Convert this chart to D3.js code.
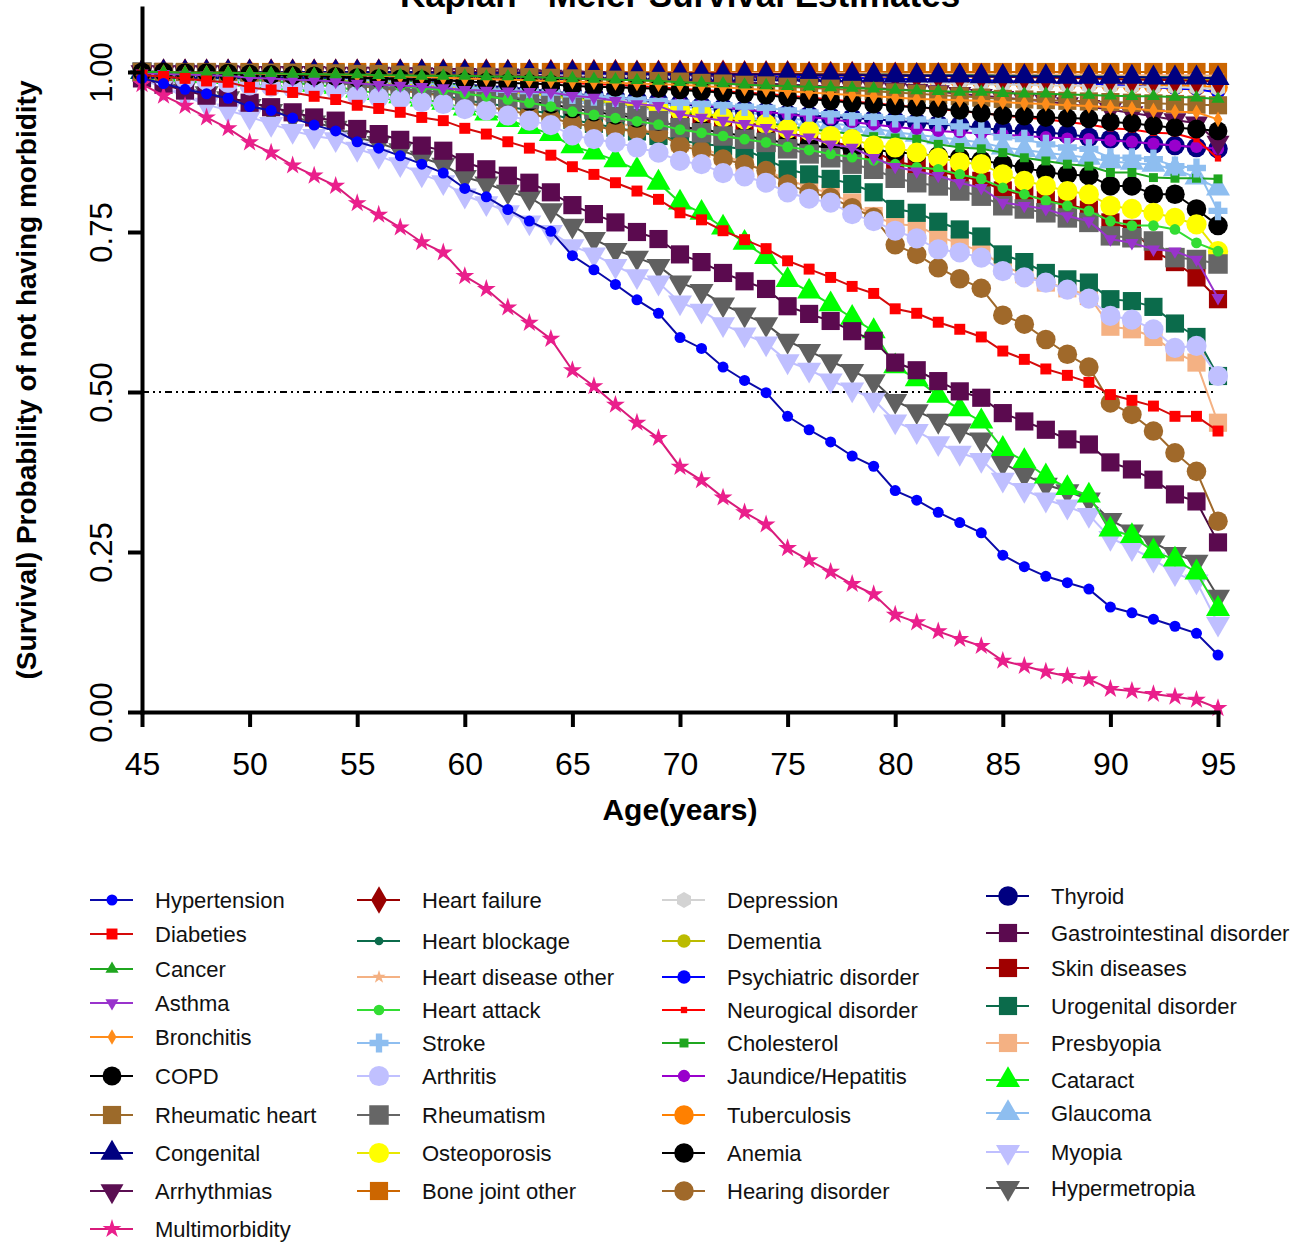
<!DOCTYPE html>
<html>
<head>
<meta charset="utf-8">
<script src="https://cdn.jsdelivr.net/npm/d3@7"></script>
<style>
body { margin: 0; background: #fff; }
text { font-family: "Liberation Sans", Arial, sans-serif; }
</style>
</head>
<body>
<script>
// Size of the picture
var width = 1316;
var height = 1243;

// Ages on the x axis (one point per year)
var ages = [45,46,47,48,49,50,51,52,53,54,
            55,56,57,58,59,60,61,62,63,64,
            65,66,67,68,69,70,71,72,73,74,
            75,76,77,78,79,80,81,82,83,84,
            85,86,87,88,89,90,91,92,93,94,
            95];
var xTicks = [45, 50, 55, 60, 65, 70, 75, 80, 85, 90, 95];
var yTicks = [0, 0.25, 0.5, 0.75, 1];

// Survival values, one list per morbidity (ages 45..95)
var hypertension = [0.990,0.982,0.973,0.966,0.959,0.946,0.940,0.928,0.917,0.908,
  0.891,0.881,0.869,0.856,0.842,0.818,0.805,0.785,0.767,0.751,
  0.713,0.691,0.668,0.644,0.623,0.585,0.568,0.539,0.518,0.499,
  0.462,0.441,0.422,0.400,0.384,0.346,0.331,0.312,0.296,0.280,
  0.245,0.227,0.212,0.202,0.192,0.164,0.155,0.145,0.134,0.123,
  0.089];
var diabeties = [0.995,0.993,0.990,0.986,0.984,0.976,0.972,0.968,0.962,0.957,
  0.948,0.943,0.937,0.929,0.924,0.912,0.903,0.891,0.881,0.870,
  0.852,0.840,0.827,0.814,0.801,0.780,0.769,0.752,0.738,0.724,
  0.705,0.692,0.679,0.665,0.654,0.630,0.623,0.609,0.598,0.586,
  0.564,0.551,0.536,0.526,0.515,0.496,0.487,0.478,0.462,0.462,
  0.439];
var cancer = [1.000,1.000,0.999,0.999,0.999,0.998,0.998,0.997,0.997,0.996,
  0.996,0.995,0.995,0.994,0.994,0.994,0.993,0.993,0.992,0.991,
  0.990,0.989,0.988,0.987,0.986,0.984,0.983,0.982,0.980,0.979,
  0.978,0.977,0.976,0.975,0.974,0.972,0.971,0.970,0.969,0.969,
  0.967,0.966,0.966,0.965,0.964,0.963,0.962,0.962,0.961,0.960,
  0.958];
var asthma = [0.998,0.997,0.996,0.995,0.994,0.991,0.990,0.988,0.987,0.985,
  0.982,0.980,0.979,0.977,0.975,0.972,0.971,0.970,0.969,0.968,
  0.963,0.960,0.955,0.950,0.947,0.934,0.929,0.924,0.919,0.913,
  0.903,0.898,0.887,0.882,0.866,0.852,0.845,0.838,0.827,0.819,
  0.796,0.791,0.786,0.775,0.767,0.739,0.733,0.723,0.720,0.707,
  0.647];
var bronchitis = [1.000,1.000,0.999,0.999,0.999,0.998,0.997,0.997,0.996,0.996,
  0.995,0.994,0.993,0.992,0.991,0.990,0.989,0.988,0.987,0.986,
  0.985,0.984,0.983,0.982,0.981,0.980,0.978,0.976,0.974,0.972,
  0.970,0.968,0.966,0.964,0.962,0.960,0.958,0.957,0.956,0.955,
  0.953,0.951,0.950,0.948,0.947,0.945,0.943,0.940,0.938,0.937,
  0.926];
var copd = [1.000,1.000,0.999,0.999,0.998,0.997,0.996,0.995,0.994,0.993,
  0.991,0.990,0.989,0.988,0.987,0.985,0.984,0.983,0.982,0.981,
  0.978,0.977,0.976,0.975,0.974,0.972,0.970,0.968,0.966,0.964,
  0.960,0.958,0.955,0.952,0.950,0.947,0.945,0.943,0.940,0.936,
  0.932,0.931,0.929,0.928,0.927,0.922,0.920,0.916,0.913,0.911,
  0.908];
var rheumaticHeart = [1.000,1.000,1.000,1.000,1.000,0.999,0.999,0.999,0.998,0.998,
  0.997,0.997,0.996,0.996,0.995,0.994,0.993,0.993,0.992,0.991,
  0.990,0.989,0.988,0.987,0.986,0.985,0.983,0.982,0.980,0.979,
  0.977,0.975,0.974,0.972,0.970,0.968,0.966,0.964,0.962,0.960,
  0.958,0.957,0.956,0.955,0.954,0.953,0.952,0.951,0.950,0.949,
  0.948];
var congenital = [1.000,1.000,1.000,1.000,1.000,1.000,1.000,1.000,1.000,1.000,
  1.000,1.000,1.000,1.000,0.999,0.999,0.999,0.999,0.999,0.998,
  0.998,0.998,0.998,0.997,0.997,0.997,0.997,0.996,0.996,0.996,
  0.996,0.995,0.995,0.995,0.995,0.994,0.994,0.994,0.994,0.993,
  0.993,0.993,0.993,0.992,0.992,0.992,0.992,0.991,0.991,0.991,
  0.990];
var arrhythmias = [1.000,1.000,1.000,1.000,1.000,0.999,0.999,0.999,0.999,0.998,
  0.998,0.998,0.997,0.997,0.996,0.996,0.995,0.995,0.994,0.993,
  0.992,0.991,0.990,0.989,0.988,0.987,0.986,0.985,0.984,0.982,
  0.980,0.979,0.977,0.976,0.975,0.973,0.971,0.969,0.966,0.963,
  0.960,0.957,0.954,0.950,0.946,0.941,0.936,0.931,0.925,0.920,
  0.890];
var multimorbidity = [0.981,0.963,0.947,0.929,0.912,0.890,0.874,0.854,0.838,0.822,
  0.795,0.777,0.757,0.734,0.718,0.681,0.661,0.632,0.608,0.583,
  0.534,0.509,0.480,0.452,0.428,0.383,0.362,0.335,0.312,0.293,
  0.256,0.237,0.219,0.200,0.184,0.152,0.140,0.126,0.114,0.103,
  0.080,0.072,0.063,0.056,0.051,0.036,0.033,0.028,0.024,0.019,
  0.006];
var heartFailure = [1.000,1.000,1.000,1.000,1.000,1.000,1.000,1.000,1.000,1.000,
  1.000,1.000,1.000,1.000,1.000,1.000,1.000,0.999,0.999,0.999,
  0.999,0.999,0.999,0.998,0.998,0.998,0.998,0.998,0.997,0.997,
  0.997,0.996,0.996,0.996,0.995,0.995,0.994,0.994,0.993,0.993,
  0.992,0.992,0.991,0.991,0.990,0.989,0.988,0.988,0.987,0.986,
  0.985];
var heartBlockage = [1.000,1.000,1.000,1.000,1.000,1.000,1.000,1.000,1.000,1.000,
  1.000,1.000,1.000,1.000,1.000,0.999,0.999,0.999,0.999,0.999,
  0.999,0.999,0.998,0.998,0.998,0.998,0.998,0.997,0.997,0.997,
  0.997,0.997,0.996,0.996,0.996,0.996,0.995,0.995,0.995,0.995,
  0.994,0.994,0.994,0.993,0.993,0.993,0.992,0.992,0.992,0.991,
  0.991];
var heartDiseaseOther = [1.000,1.000,1.000,1.000,1.000,1.000,1.000,1.000,1.000,1.000,
  1.000,1.000,1.000,1.000,1.000,1.000,1.000,1.000,1.000,0.999,
  0.999,0.999,0.999,0.999,0.999,0.999,0.999,0.999,0.998,0.998,
  0.998,0.998,0.998,0.998,0.998,0.997,0.997,0.997,0.997,0.997,
  0.996,0.996,0.996,0.996,0.996,0.995,0.995,0.995,0.995,0.995,
  0.994];
var heartAttack = [1.000,0.999,0.998,0.997,0.996,0.994,0.993,0.991,0.989,0.987,
  0.983,0.981,0.978,0.975,0.972,0.966,0.962,0.957,0.952,0.946,
  0.938,0.933,0.928,0.923,0.918,0.910,0.905,0.900,0.895,0.890,
  0.883,0.878,0.872,0.867,0.862,0.856,0.851,0.848,0.840,0.833,
  0.819,0.809,0.799,0.791,0.783,0.767,0.760,0.760,0.754,0.733,
  0.720];
var stroke = [1.000,0.999,0.999,0.998,0.997,0.996,0.995,0.994,0.992,0.991,
  0.988,0.986,0.984,0.982,0.980,0.976,0.974,0.972,0.970,0.968,
  0.965,0.962,0.960,0.957,0.955,0.952,0.950,0.948,0.946,0.944,
  0.940,0.937,0.934,0.931,0.930,0.928,0.926,0.922,0.915,0.908,
  0.898,0.895,0.887,0.882,0.880,0.866,0.866,0.864,0.853,0.850,
  0.783];
var arthritis = [0.995,0.992,0.989,0.986,0.983,0.979,0.977,0.975,0.974,0.972,
  0.963,0.960,0.958,0.953,0.950,0.942,0.940,0.932,0.924,0.917,
  0.901,0.895,0.890,0.882,0.874,0.861,0.856,0.842,0.837,0.827,
  0.812,0.802,0.796,0.778,0.767,0.752,0.740,0.723,0.718,0.710,
  0.689,0.679,0.671,0.660,0.646,0.619,0.613,0.598,0.569,0.572,
  0.525];
var rheumatism = [1.000,0.999,0.998,0.997,0.996,0.992,0.990,0.988,0.986,0.984,
  0.979,0.977,0.974,0.971,0.968,0.965,0.963,0.960,0.958,0.955,
  0.950,0.942,0.937,0.932,0.924,0.913,0.905,0.900,0.895,0.890,
  0.880,0.872,0.866,0.856,0.848,0.834,0.827,0.822,0.814,0.806,
  0.791,0.786,0.780,0.772,0.765,0.744,0.741,0.736,0.710,0.707,
  0.700];
var osteoporosis = [1.000,0.999,0.998,0.997,0.996,0.994,0.993,0.992,0.990,0.989,
  0.986,0.984,0.982,0.980,0.978,0.974,0.972,0.969,0.966,0.963,
  0.958,0.955,0.952,0.948,0.944,0.940,0.937,0.929,0.926,0.919,
  0.911,0.908,0.900,0.895,0.885,0.882,0.874,0.866,0.859,0.856,
  0.840,0.830,0.822,0.814,0.809,0.791,0.786,0.780,0.772,0.762,
  0.720];
var boneJointOther = [1.000,1.000,1.000,1.000,1.000,1.000,1.000,1.000,1.000,1.000,
  1.000,1.000,1.000,1.000,1.000,1.000,1.000,1.000,1.000,1.000,
  1.000,1.000,1.000,1.000,1.000,1.000,1.000,1.000,1.000,1.000,
  1.000,1.000,1.000,1.000,1.000,1.000,1.000,1.000,1.000,1.000,
  1.000,1.000,1.000,1.000,1.000,1.000,1.000,1.000,1.000,1.000,
  1.000];
var depression = [1.000,1.000,1.000,1.000,1.000,1.000,1.000,0.999,0.999,0.999,
  0.999,0.999,0.998,0.998,0.998,0.997,0.997,0.996,0.996,0.995,
  0.995,0.994,0.994,0.993,0.993,0.992,0.991,0.991,0.990,0.989,
  0.988,0.988,0.987,0.986,0.985,0.984,0.984,0.983,0.982,0.981,
  0.980,0.980,0.979,0.979,0.978,0.977,0.977,0.976,0.976,0.975,
  0.974];
var dementia = [1.000,1.000,1.000,1.000,1.000,1.000,1.000,1.000,1.000,1.000,
  1.000,1.000,1.000,1.000,1.000,1.000,1.000,1.000,1.000,1.000,
  0.999,0.999,0.999,0.999,0.999,0.999,0.998,0.998,0.998,0.998,
  0.997,0.997,0.997,0.996,0.996,0.995,0.995,0.994,0.994,0.993,
  0.993,0.992,0.992,0.991,0.991,0.990,0.990,0.989,0.989,0.988,
  0.987];
var psychiatric = [1.000,1.000,1.000,1.000,1.000,1.000,1.000,1.000,1.000,0.999,
  0.999,0.999,0.999,0.999,0.998,0.998,0.998,0.998,0.997,0.997,
  0.997,0.996,0.996,0.996,0.995,0.995,0.994,0.994,0.993,0.993,
  0.992,0.992,0.991,0.991,0.990,0.989,0.989,0.988,0.988,0.987,
  0.986,0.985,0.984,0.983,0.982,0.980,0.978,0.976,0.974,0.973,
  0.968];
var neurological = [1.000,1.000,1.000,0.999,0.999,0.998,0.998,0.997,0.997,0.996,
  0.995,0.994,0.993,0.992,0.991,0.990,0.989,0.988,0.987,0.985,
  0.983,0.981,0.980,0.978,0.976,0.974,0.972,0.970,0.968,0.966,
  0.963,0.960,0.957,0.954,0.951,0.948,0.945,0.942,0.939,0.936,
  0.932,0.929,0.926,0.922,0.918,0.912,0.910,0.905,0.904,0.895,
  0.865];
var cholesterol = [1.000,1.000,0.999,0.999,0.998,0.997,0.996,0.995,0.994,0.993,
  0.990,0.988,0.986,0.984,0.982,0.978,0.975,0.972,0.969,0.966,
  0.960,0.956,0.952,0.948,0.944,0.938,0.934,0.930,0.926,0.921,
  0.915,0.911,0.907,0.903,0.899,0.897,0.895,0.887,0.882,0.880,
  0.874,0.866,0.861,0.856,0.853,0.843,0.843,0.835,0.834,0.834,
  0.833];
var jaundice = [1.000,0.999,0.999,0.998,0.997,0.995,0.994,0.993,0.991,0.990,
  0.986,0.984,0.982,0.980,0.978,0.975,0.973,0.971,0.969,0.966,
  0.963,0.961,0.959,0.957,0.955,0.952,0.949,0.945,0.941,0.938,
  0.934,0.930,0.926,0.922,0.918,0.914,0.911,0.908,0.906,0.904,
  0.902,0.900,0.898,0.896,0.895,0.893,0.891,0.888,0.885,0.883,
  0.880];
var tuberculosis = [1.000,1.000,1.000,1.000,1.000,1.000,1.000,1.000,1.000,1.000,
  0.999,0.999,0.999,0.999,0.999,0.998,0.998,0.998,0.998,0.997,
  0.997,0.997,0.996,0.996,0.996,0.995,0.995,0.994,0.994,0.993,
  0.993,0.992,0.992,0.991,0.991,0.990,0.989,0.989,0.988,0.987,
  0.986,0.985,0.985,0.984,0.983,0.982,0.981,0.980,0.979,0.978,
  0.976];
var anemia = [1.000,0.999,0.998,0.997,0.996,0.994,0.993,0.991,0.989,0.987,
  0.984,0.981,0.978,0.975,0.972,0.966,0.962,0.958,0.954,0.950,
  0.943,0.938,0.933,0.928,0.923,0.915,0.910,0.905,0.900,0.895,
  0.888,0.885,0.882,0.880,0.878,0.875,0.872,0.869,0.866,0.862,
  0.856,0.851,0.843,0.840,0.838,0.822,0.822,0.809,0.809,0.786,
  0.760];
var hearing = [1.000,0.999,0.998,0.997,0.996,0.993,0.991,0.989,0.987,0.985,
  0.978,0.975,0.971,0.967,0.963,0.952,0.946,0.940,0.934,0.928,
  0.920,0.915,0.910,0.908,0.905,0.885,0.877,0.864,0.856,0.846,
  0.825,0.812,0.804,0.788,0.773,0.730,0.715,0.694,0.677,0.662,
  0.620,0.606,0.582,0.559,0.539,0.483,0.465,0.439,0.405,0.376,
  0.298];
var thyroid = [1.000,1.000,0.999,0.999,0.998,0.997,0.996,0.995,0.994,0.993,
  0.990,0.989,0.987,0.985,0.983,0.980,0.978,0.976,0.973,0.970,
  0.966,0.963,0.960,0.957,0.954,0.950,0.947,0.944,0.941,0.938,
  0.934,0.932,0.930,0.928,0.926,0.924,0.921,0.918,0.916,0.913,
  0.909,0.907,0.905,0.903,0.898,0.895,0.892,0.887,0.885,0.882,
  0.880];
var gastro = [0.990,0.980,0.971,0.963,0.960,0.952,0.945,0.937,0.929,0.924,
  0.911,0.903,0.894,0.885,0.877,0.859,0.848,0.838,0.827,0.812,
  0.792,0.778,0.765,0.750,0.739,0.715,0.703,0.686,0.673,0.661,
  0.634,0.622,0.611,0.595,0.580,0.546,0.534,0.517,0.501,0.491,
  0.467,0.454,0.441,0.426,0.418,0.390,0.379,0.363,0.340,0.329,
  0.265];
var skin = [1.000,1.000,0.999,0.999,0.998,0.997,0.996,0.995,0.994,0.993,
  0.990,0.988,0.986,0.984,0.982,0.978,0.975,0.972,0.969,0.965,
  0.960,0.956,0.952,0.947,0.943,0.937,0.932,0.927,0.921,0.915,
  0.905,0.898,0.891,0.884,0.876,0.860,0.853,0.845,0.838,0.830,
  0.815,0.808,0.800,0.793,0.785,0.765,0.755,0.720,0.703,0.679,
  0.645];
var urogenital = [1.000,0.999,0.998,0.997,0.996,0.993,0.991,0.989,0.987,0.985,
  0.978,0.975,0.972,0.968,0.964,0.956,0.951,0.946,0.940,0.935,
  0.925,0.919,0.913,0.907,0.900,0.893,0.888,0.884,0.879,0.864,
  0.848,0.840,0.833,0.825,0.812,0.786,0.780,0.766,0.754,0.743,
  0.715,0.703,0.686,0.676,0.671,0.645,0.642,0.633,0.607,0.586,
  0.525];
var presbyopia = [1.000,0.999,0.999,0.998,0.997,0.995,0.994,0.993,0.991,0.989,
  0.985,0.982,0.979,0.976,0.973,0.968,0.963,0.958,0.952,0.946,
  0.938,0.930,0.922,0.913,0.903,0.890,0.880,0.870,0.858,0.846,
  0.832,0.820,0.810,0.796,0.775,0.762,0.760,0.744,0.731,0.720,
  0.697,0.684,0.671,0.662,0.650,0.602,0.598,0.586,0.562,0.546,
  0.452];
var cataract = [1.000,0.998,0.996,0.994,0.992,0.988,0.986,0.983,0.980,0.977,
  0.971,0.967,0.962,0.957,0.952,0.943,0.935,0.925,0.914,0.903,
  0.884,0.874,0.862,0.847,0.827,0.796,0.780,0.757,0.733,0.711,
  0.675,0.657,0.637,0.616,0.595,0.540,0.520,0.494,0.473,0.454,
  0.411,0.392,0.368,0.350,0.338,0.285,0.275,0.251,0.238,0.218,
  0.161];
var glaucoma = [1.000,1.000,0.999,0.999,0.998,0.997,0.996,0.995,0.994,0.993,
  0.991,0.989,0.987,0.985,0.983,0.979,0.977,0.975,0.972,0.969,
  0.964,0.961,0.958,0.955,0.951,0.946,0.943,0.940,0.937,0.933,
  0.928,0.924,0.920,0.916,0.912,0.906,0.902,0.898,0.894,0.890,
  0.882,0.878,0.874,0.870,0.866,0.860,0.858,0.855,0.848,0.835,
  0.818];
var myopia = [0.988,0.976,0.962,0.949,0.940,0.930,0.919,0.908,0.900,0.895,
  0.880,0.869,0.856,0.840,0.828,0.807,0.795,0.781,0.765,0.750,
  0.728,0.715,0.697,0.681,0.671,0.640,0.627,0.606,0.590,0.576,
  0.548,0.535,0.518,0.504,0.488,0.454,0.439,0.420,0.405,0.394,
  0.363,0.347,0.332,0.321,0.308,0.272,0.256,0.238,0.217,0.204,
  0.138];
var hypermetropia = [0.992,0.984,0.976,0.967,0.959,0.947,0.939,0.930,0.921,0.913,
  0.898,0.889,0.878,0.866,0.855,0.836,0.826,0.813,0.804,0.784,
  0.760,0.739,0.722,0.710,0.697,0.671,0.658,0.637,0.621,0.606,
  0.580,0.564,0.548,0.533,0.517,0.486,0.470,0.455,0.440,0.426,
  0.389,0.371,0.355,0.345,0.332,0.300,0.282,0.265,0.247,0.235,
  0.180];

// Legend names, in legend order
var names = ["Hypertension", "Diabeties", "Cancer", "Asthma", "Bronchitis", "COPD",
  "Rheumatic heart", "Congenital", "Arrhythmias", "Multimorbidity",
  "Heart failure", "Heart blockage", "Heart disease other", "Heart attack", "Stroke",
  "Arthritis", "Rheumatism", "Osteoporosis", "Bone joint other",
  "Depression", "Dementia", "Psychiatric disorder", "Neurogical disorder", "Cholesterol",
  "Jaundice/Hepatitis", "Tuberculosis", "Anemia", "Hearing disorder",
  "Thyroid", "Gastrointestinal disorder", "Skin diseases", "Urogenital disorder",
  "Presbyopia", "Cataract", "Glaucoma", "Myopia", "Hypermetropia"];
var values = [hypertension, diabeties, cancer, asthma, bronchitis, copd,
  rheumaticHeart, congenital, arrhythmias, multimorbidity,
  heartFailure, heartBlockage, heartDiseaseOther, heartAttack, stroke,
  arthritis, rheumatism, osteoporosis, boneJointOther,
  depression, dementia, psychiatric, neurological, cholesterol,
  jaundice, tuberculosis, anemia, hearing,
  thyroid, gastro, skin, urogenital,
  presbyopia, cataract, glaucoma, myopia, hypermetropia];

// Hexagon symbol for Depression
var symbolHexagon = {
    draw: function(context, size) {
        var r = Math.sqrt(size / (1.5 * Math.sqrt(3)));
        for (var i = 0; i < 6; i++) {
            var a = Math.PI / 3 * i;
            if (i == 0) context.moveTo(r * Math.cos(a), r * Math.sin(a));
            else context.lineTo(r * Math.cos(a), r * Math.sin(a));
        }
        context.closePath();
    }
};

// Marker style for each series: colour, line colour, symbol, area, rotation
var styles = {
    "Hypertension":        {c: "#0000ff", l: "#0a0aa8", s: d3.symbolCircle, a: 95, r: 0},
    "Diabeties":           {c: "#ff0000", l: "#d40a0a", s: d3.symbolSquare, a: 120, r: 0},
    "Cancer":              {c: "#1fa61f", l: "#1fa61f", s: d3.symbolTriangle, a: 75, r: 0},
    "Asthma":              {c: "#9933cc", l: "#9933cc", s: d3.symbolTriangle, a: 75, r: 180},
    "Bronchitis":          {c: "#ff8c1a", l: "#ff8c1a", s: d3.symbolDiamond, a: 70, r: 0},
    "COPD":                {c: "#000000", l: "#000000", s: d3.symbolCircle, a: 280, r: 0},
    "Rheumatic heart":     {c: "#9c6a2a", l: "#9c6a2a", s: d3.symbolSquare, a: 330, r: 0},
    "Congenital":          {c: "#000080", l: "#000080", s: d3.symbolTriangle, a: 230, r: 0},
    "Arrhythmias":         {c: "#5b0f52", l: "#5b0f52", s: d3.symbolTriangle, a: 230, r: 180},
    "Multimorbidity":      {c: "#ea1f8c", l: "#d81b7a", s: d3.symbolStar, a: 110, r: 0},
    "Heart failure":       {c: "#990000", l: "#990000", s: d3.symbolDiamond, a: 220, r: 0},
    "Heart blockage":      {c: "#0b6b4b", l: "#0b6b4b", s: d3.symbolCircle, a: 60, r: 0},
    "Heart disease other": {c: "#f4b183", l: "#f4b183", s: d3.symbolStar, a: 55, r: 0},
    "Heart attack":        {c: "#33dd33", l: "#33dd33", s: d3.symbolCircle, a: 90, r: 0},
    "Stroke":              {c: "#8ebef0", l: "#8ebef0", s: d3.symbolCross, a: 200, r: 0},
    "Arthritis":           {c: "#c0c0ff", l: "#c0c0ff", s: d3.symbolCircle, a: 320, r: 0},
    "Rheumatism":          {c: "#666666", l: "#666666", s: d3.symbolSquare, a: 380, r: 0},
    "Osteoporosis":        {c: "#ffff00", l: "#e8e800", s: d3.symbolCircle, a: 320, r: 0},
    "Bone joint other":    {c: "#cc6600", l: "#cc6600", s: d3.symbolSquare, a: 330, r: 0},
    "Depression":          {c: "#d3d3d3", l: "#d3d3d3", s: symbolHexagon, a: 170, r: 90},
    "Dementia":            {c: "#bbbb00", l: "#bbbb00", s: d3.symbolCircle, a: 140, r: 0},
    "Psychiatric disorder":{c: "#0000ff", l: "#0000ff", s: d3.symbolCircle, a: 140, r: 0},
    "Neurogical disorder": {c: "#ff0000", l: "#ff0000", s: d3.symbolSquare, a: 40, r: 0},
    "Cholesterol":         {c: "#1fa61f", l: "#1fa61f", s: d3.symbolSquare, a: 80, r: 0},
    "Jaundice/Hepatitis":  {c: "#9900cc", l: "#9900cc", s: d3.symbolCircle, a: 120, r: 0},
    "Tuberculosis":        {c: "#ff8000", l: "#ff8000", s: d3.symbolCircle, a: 300, r: 0},
    "Anemia":              {c: "#000000", l: "#000000", s: d3.symbolCircle, a: 300, r: 0},
    "Hearing disorder":    {c: "#a0692a", l: "#a0692a", s: d3.symbolCircle, a: 300, r: 0},
    "Thyroid":             {c: "#000080", l: "#000080", s: d3.symbolCircle, a: 300, r: 0},
    "Gastrointestinal disorder": {c: "#5b0a4f", l: "#4a0840", s: d3.symbolSquare, a: 330, r: 0},
    "Skin diseases":       {c: "#a00000", l: "#a00000", s: d3.symbolSquare, a: 330, r: 0},
    "Urogenital disorder": {c: "#0b6b4b", l: "#0b6b4b", s: d3.symbolSquare, a: 330, r: 0},
    "Presbyopia":          {c: "#f4b183", l: "#f4b183", s: d3.symbolSquare, a: 330, r: 0},
    "Cataract":            {c: "#00ff00", l: "#22dd22", s: d3.symbolTriangle, a: 250, r: 0},
    "Glaucoma":            {c: "#8ebef0", l: "#8ebef0", s: d3.symbolTriangle, a: 250, r: 0},
    "Myopia":              {c: "#bfbfff", l: "#bfbfff", s: d3.symbolTriangle, a: 250, r: 180},
    "Hypermetropia":       {c: "#606060", l: "#505050", s: d3.symbolTriangle, a: 250, r: 180}
};

var series = names.map(function(n, i) {
    return {name: n, values: values[i], style: styles[n]};
});

var svg = d3.select("body").append("svg")
    .attr("width", width)
    .attr("height", height);

// Scales
var x = d3.scaleLinear().domain([45, 95]).range([142, 1218]);
var y = d3.scaleLinear().domain([0, 1.1]).range([712, 8]);

var line = d3.line()
    .x(function(d, i) { return x(ages[i]); })
    .y(function(d) { return y(d); });

function marker(st) {
    return d3.symbol().type(st.s).size(st.a)();
}

// Median reference line
svg.append("line")
    .attr("x1", x(45)).attr("x2", x(94.9))
    .attr("y1", y(0.5)).attr("y2", y(0.5))
    .attr("stroke", "#000")
    .attr("stroke-width", 2)
    .attr("stroke-dasharray", "7,4,2,4,2,4");

// Draw series, the first one in the legend ends up on top
var groups = svg.append("g").selectAll("g.series")
    .data(series.slice().reverse())
    .enter()
    .append("g")
    .attr("class", "series");

groups.append("path")
    .attr("d", function(d) { return line(d.values); })
    .attr("fill", "none")
    .attr("stroke", function(d) { return d.style.l; })
    .attr("stroke-width", 2);

groups.each(function(d) {
    d3.select(this).selectAll("path.pt")
        .data(d.values)
        .enter()
        .append("path")
        .attr("class", "pt")
        .attr("d", marker(d.style))
        .attr("transform", function(v, i) {
            return "translate(" + x(ages[i]) + "," + y(v) + ") rotate(" + d.style.r + ")";
        })
        .attr("fill", d.style.c);
});

// Axes
var yAxis = d3.axisLeft(y)
    .tickValues(yTicks)
    .tickFormat(d3.format(".2f"))
    .tickSize(14)
    .tickSizeOuter(0);

var yg = svg.append("g")
    .attr("transform", "translate(142,0)")
    .call(yAxis);
yg.selectAll("text")
    .attr("x", null).attr("dy", null)
    .attr("transform", "translate(-30,0) rotate(-90)")
    .attr("text-anchor", "middle")
    .style("font-size", "31px")
    .attr("fill", "#000");

var xAxis = d3.axisBottom(x)
    .tickValues(xTicks)
    .tickSize(15)
    .tickSizeOuter(0);

var xg = svg.append("g")
    .attr("transform", "translate(0,712)")
    .call(xAxis);
xg.selectAll("text")
    .attr("y", 63).attr("dy", null)
    .style("font-size", "32px")
    .attr("fill", "#000");

svg.selectAll(".domain").attr("stroke", "#000").attr("stroke-width", 4).attr("stroke-linecap", "square");
svg.selectAll(".tick line").attr("stroke", "#000").attr("stroke-width", 4);

// Titles (the main title sits partly above the top edge, as in the source)
svg.append("text")
    .attr("x", 680).attr("y", 7)
    .attr("text-anchor", "middle")
    .style("font-size", "35px").style("font-weight", "bold")
    .text("Kaplan - Meier Survival Estimates");

svg.append("text")
    .attr("x", 680).attr("y", 820)
    .attr("text-anchor", "middle")
    .style("font-size", "30px").style("font-weight", "bold")
    .text("Age(years)");

svg.append("text")
    .attr("transform", "translate(36,380) rotate(-90)")
    .attr("text-anchor", "middle")
    .style("font-size", "28px").style("font-weight", "bold")
    .text("(Survival) Probability of not having morbidity");

// Legend in four columns
var legendCols = [
    {x: 112, rows: [900, 934, 969, 1003, 1037, 1076, 1115, 1153, 1191, 1229]},
    {x: 379, rows: [900, 941, 977, 1010, 1043, 1076, 1115, 1153, 1191]},
    {x: 684, rows: [900, 941, 977, 1010, 1043, 1076, 1115, 1153, 1191]},
    {x: 1008, rows: [896, 933, 968, 1006, 1043, 1080, 1113, 1152, 1188]}
];
var legendPos = [];
legendCols.forEach(function(col) {
    col.rows.forEach(function(r) { legendPos.push({x: col.x, y: r}); });
});

var legend = svg.selectAll("g.legend")
    .data(series)
    .enter()
    .append("g")
    .attr("class", "legend")
    .attr("transform", function(d, i) { return "translate(" + legendPos[i].x + "," + legendPos[i].y + ")"; });

legend.append("line")
    .attr("x1", -22).attr("x2", 21)
    .attr("stroke", function(d) { return d.style.l; })
    .attr("stroke-width", 2);

legend.append("path")
    .attr("d", function(d) { return marker(d.style); })
    .attr("transform", function(d) { return "rotate(" + d.style.r + ")"; })
    .attr("fill", function(d) { return d.style.c; });

legend.append("text")
    .attr("x", 43)
    .attr("dy", "0.36em")
    .style("font-size", "22px")
    .attr("fill", "#111")
    .text(function(d) { return d.name; });
</script>
</body>
</html>
